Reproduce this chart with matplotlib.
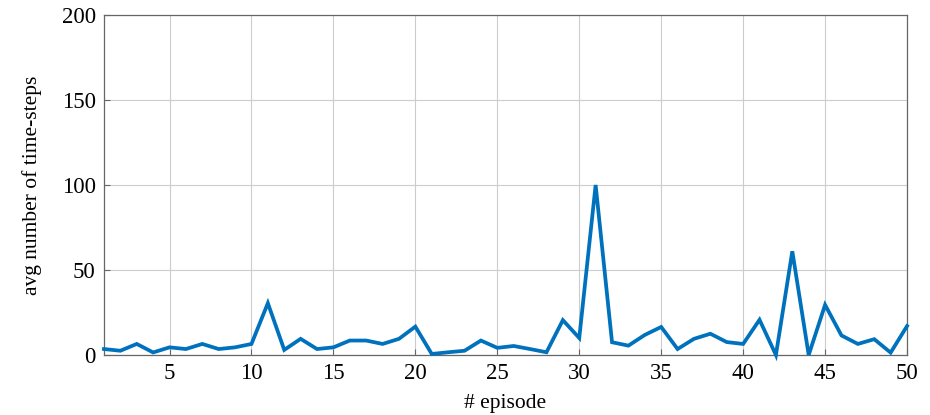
import matplotlib
matplotlib.use("Agg")
import matplotlib.pyplot as plt

# average number of time-steps per episode
episodes = list(range(1, 51))
avg_steps = [3.5, 2.5, 6.5, 1.5, 4.5, 3.5, 6.5, 3.5, 4.5, 6.5,
             30.5, 3, 9.5, 3.5, 4.5, 8.5, 8.5, 6.5, 9.5, 16.7,
             0.6, 1.6, 2.5, 8.5, 4.2, 5.3, 3.5, 1.6, 20.5, 10,
             100, 7.5, 5.5, 11.8, 16.5, 3.5, 9.5, 12.5, 7.6, 6.5,
             20.7, 0, 61, 0, 29.5, 11.5, 6.5, 9.3, 1.4, 17]

x_ticks = [5, 10, 15, 20, 25, 30, 35, 40, 45, 50]
y_ticks = [0, 50, 100, 150, 200]

plt.rcParams['font.family'] = ['Liberation Serif', 'DejaVu Serif']

fig = plt.figure(figsize=(9.3, 4.15), dpi=100)
ax = fig.add_axes([0.1118, 0.1446, 0.8635, 0.8193])

line, = ax.plot(episodes, avg_steps, color='#0072BD', linewidth=2.7,
                zorder=3, clip_on=False)
line.set_solid_joinstyle('miter')

ax.set_xlim(1, 50)
ax.set_ylim(0, 200)
ax.set_xticks(x_ticks)
ax.set_yticks(y_ticks)
ax.grid(True, color='#cccccc', linewidth=0.8)
ax.set_axisbelow(True)

for s in ax.spines.values():
    s.set_color('#666666')
    s.set_linewidth(0.9)

ax.tick_params(axis='both', direction='in', length=4, width=0.8,
               color='#666666', labelsize=16.5, pad=6)
ax.set_xlabel('# episode', fontsize=15.5, labelpad=7)
ax.set_ylabel('avg number of time-steps', fontsize=15.5, labelpad=14)

fig.savefig('out.png', dpi=100)
